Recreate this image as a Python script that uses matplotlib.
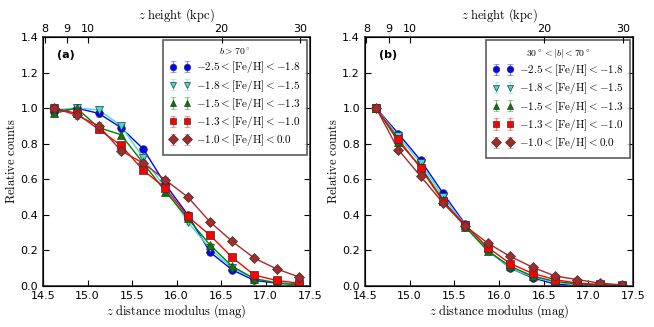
import numpy as np
import matplotlib
matplotlib.use("Agg")
import matplotlib.pyplot as plt
from matplotlib.colors import to_rgba

plt.rcParams["mathtext.fontset"] = "cm"
plt.rcParams["font.family"] = "DejaVu Sans"

# distance modulus bins
dist_mod = [14.625, 14.875, 15.125, 15.375, 15.625, 15.875,
            16.125, 16.375, 16.625, 16.875, 17.125, 17.375]

# top axis: z height (kpc)
height_ticks = [8, 9, 10, 20, 30]

labels = [r"$-2.5<\mathrm{[Fe/H]}<-1.8$",
          r"$-1.8<\mathrm{[Fe/H]}<-1.5$",
          r"$-1.5<\mathrm{[Fe/H]}<-1.3$",
          r"$-1.3<\mathrm{[Fe/H]}<-1.0$",
          r"$-1.0<\mathrm{[Fe/H]}<0.0$"]

# panel (a): b > 70
counts_a = [
    [0.98, 1.00, 0.97, 0.89, 0.77, 0.57, 0.40, 0.19, 0.09, 0.03, 0.015, 0.01],
    [0.99, 1.00, 0.99, 0.90, 0.72, 0.55, 0.36, 0.21, 0.10, 0.04, 0.02, 0.005],
    [0.97, 1.00, 0.89, 0.85, 0.69, 0.53, 0.38, 0.23, 0.11, 0.04, 0.015, 0.005],
    [1.00, 0.97, 0.88, 0.79, 0.65, 0.55, 0.39, 0.285, 0.16, 0.06, 0.03, 0.015],
    [1.00, 0.96, 0.90, 0.76, 0.69, 0.595, 0.50, 0.36, 0.25, 0.155, 0.095, 0.05],
]
err_a = [
    [0.02, 0.02, 0.02, 0.015, 0.015, 0.01, 0.01, 0.008, 0.005, 0.004, 0.003, 0.002],
    [0.02, 0.02, 0.02, 0.015, 0.015, 0.01, 0.01, 0.008, 0.005, 0.004, 0.003, 0.002],
    [0.02, 0.025, 0.02, 0.015, 0.015, 0.01, 0.01, 0.008, 0.005, 0.004, 0.003, 0.002],
    [0.025, 0.02, 0.02, 0.015, 0.015, 0.01, 0.01, 0.008, 0.005, 0.004, 0.003, 0.002],
    [0.025, 0.02, 0.02, 0.02, 0.015, 0.015, 0.01, 0.008, 0.006, 0.005, 0.004, 0.003],
]

# panel (b): 30 < |b| < 70
counts_b = [
    [1.00, 0.855, 0.705, 0.52, 0.345, 0.20, 0.10, 0.045, 0.01, 0.002, 0.001, 0.0005],
    [1.00, 0.84, 0.69, 0.50, 0.34, 0.20, 0.10, 0.05, 0.02, 0.005, 0.003, 0.001],
    [1.00, 0.81, 0.67, 0.48, 0.33, 0.195, 0.11, 0.055, 0.025, 0.01, 0.005, 0.002],
    [1.00, 0.825, 0.66, 0.475, 0.34, 0.215, 0.125, 0.07, 0.035, 0.015, 0.008, 0.003],
    [1.00, 0.765, 0.615, 0.465, 0.335, 0.24, 0.165, 0.105, 0.055, 0.035, 0.015, 0.005],
]
err_b = [
    [0.005, 0.01, 0.008, 0.006, 0.005, 0.004, 0.003, 0.002, 0.001, 0.001, 0.001, 0.001],
    [0.005, 0.01, 0.008, 0.006, 0.005, 0.004, 0.003, 0.002, 0.001, 0.001, 0.001, 0.001],
    [0.005, 0.01, 0.008, 0.006, 0.005, 0.004, 0.003, 0.002, 0.001, 0.001, 0.001, 0.001],
    [0.005, 0.01, 0.008, 0.006, 0.005, 0.004, 0.003, 0.002, 0.001, 0.001, 0.001, 0.001],
    [0.005, 0.01, 0.008, 0.006, 0.005, 0.004, 0.003, 0.002, 0.001, 0.001, 0.001, 0.001],
]

colors = ["blue", "turquoise", "green", "red", "brown"]
markers = ["o", "v", "^", "s", "D"]


def draw_panel(ax, counts, errs, tag, title):
    for c, e, col, m, lab in zip(counts, errs, colors, markers, labels):
        ax.plot(dist_mod, c, color=col, linewidth=1)
        ax.errorbar(dist_mod, c, yerr=e, color=col, ecolor=to_rgba(col, 0.5),
                    marker=m, linestyle="none", markersize=5.5,
                    markeredgecolor="#333333", markeredgewidth=0.5,
                    elinewidth=1, capsize=2, label=lab)
    ax.set_xlim(14.5, 17.5)
    ax.set_ylim(0, 1.4)
    ax.set_xticks(np.arange(14.5, 17.51, 0.5))
    ax.set_yticks(np.arange(0, 1.41, 0.2))
    ax.tick_params(direction="in", labelsize=8, right=True, length=4)
    ax.set_xlabel(r"$z\ \mathrm{distance\ modulus\ (mag)}$", fontsize=9, labelpad=1)
    ax.set_ylabel(r"$\mathrm{Relative\ counts}$", fontsize=9, labelpad=2)
    ax.text(0.052, 0.915, tag, transform=ax.transAxes, fontsize=8, fontweight="bold")
    leg = ax.legend(loc="upper right", numpoints=2, fontsize=8, title=title,
                    title_fontsize=7, frameon=True, fancybox=False,
                    borderaxespad=0.3, handletextpad=0.5, handlelength=1.8,
                    labelspacing=0.2, borderpad=0.6, markerscale=0.85)
    leg.get_frame().set_edgecolor("#333333")
    leg.get_frame().set_linewidth(1.2)
    for sp in ax.spines.values():
        sp.set_linewidth(1.2)
        sp.set_color("#333333")

    top = ax.twiny()
    top.set_xlim(ax.get_xlim())
    top.set_xticks([5 * np.log10(h * 100) for h in height_ticks])
    top.set_xticklabels([str(h) for h in height_ticks])
    top.tick_params(direction="in", labelsize=8, length=4, pad=2)
    top.set_xlabel(r"$z\ \mathrm{height\ (kpc)}$", fontsize=9, labelpad=4)


fig = plt.figure(figsize=(6.54, 3.27), dpi=100)
ax1 = fig.add_axes([0.066, 0.126, 0.408, 0.761])
ax2 = fig.add_axes([0.558, 0.126, 0.410, 0.761])

draw_panel(ax1, counts_a, err_a, "(a)", r"$b>70^\circ$")
draw_panel(ax2, counts_b, err_b, "(b)", r"$30^\circ<|b|<70^\circ$")

fig.savefig("out.png", dpi=100)
